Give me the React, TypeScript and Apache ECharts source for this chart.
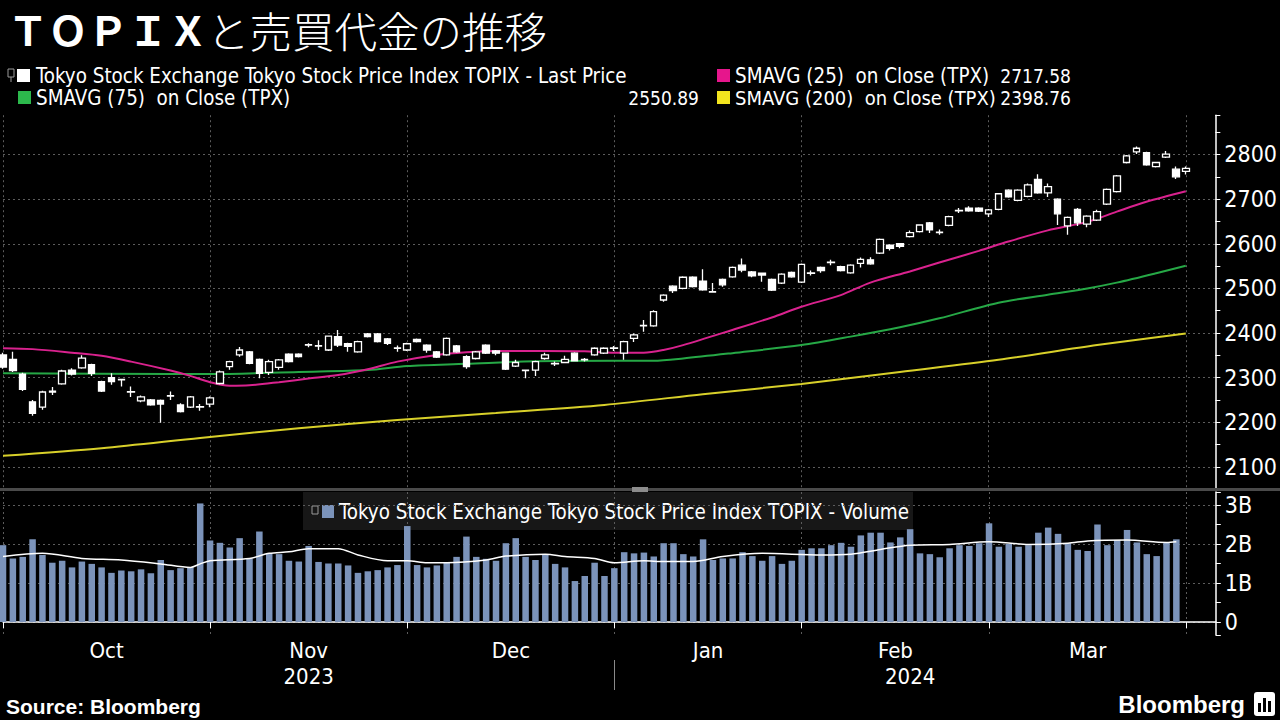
import React, { useEffect, useRef } from "react";
import * as echarts from "echarts";

// Trading days shown (Oct 2023 – early Apr 2024)
const octDays = [2, 3, 4, 5, 6, 10, 11, 12, 13, 16, 17, 18, 19, 20, 23, 24, 25, 26, 27, 30, 31];
const novDays = [1, 2, 6, 7, 8, 9, 10, 13, 14, 15, 16, 17, 20, 21, 22, 24, 27, 28, 29, 30];
const decDays = [1, 4, 5, 6, 7, 8, 11, 12, 13, 14, 15, 18, 19, 20, 21, 22, 25, 26, 27, 28, 29];
const janDays = [4, 5, 9, 10, 11, 12, 15, 16, 17, 18, 19, 22, 23, 24, 25, 26, 29, 30, 31];
const febDays = [1, 2, 5, 6, 7, 8, 9, 13, 14, 15, 16, 19, 20, 21, 22, 26, 27, 28, 29];
const marDays = [1, 4, 5, 6, 7, 8, 11, 12, 13, 14, 15, 18, 19, 21, 22, 25, 26, 27, 28, 29];
const aprDays = [1, 2, 3, 4];

const monthNames = ["Oct", "Nov", "Dec", "Jan", "Feb", "Mar"];
const yearLabels = ["2023", "2024"];
const priceTicks = [2100, 2200, 2300, 2400, 2500, 2600, 2700, 2800];
const volumeTickLabels = ["0", "1B", "2B", "3B"];

// TOPIX daily candles: [open, close, low, high]
const candles: number[][] = [
  [2351, 2324, 2320, 2356], [2341, 2316, 2313, 2358], [2308, 2274, 2270, 2311], [2246, 2220, 2215, 2250],
  [2234, 2268, 2228, 2271], [2268, 2270, 2261, 2279], [2286, 2315, 2284, 2318], [2317, 2308, 2305, 2321],
  [2322, 2344, 2320, 2350], [2329, 2310, 2304, 2331], [2291, 2270, 2268, 2293], [2300, 2291, 2284, 2310],
  [2296, 2295, 2280, 2297], [2269, 2268, 2257, 2280], [2248, 2257, 2245, 2260], [2250, 2239, 2237, 2252],
  [2249, 2241, 2199, 2251], [2259, 2260, 2250, 2269], [2239, 2224, 2222, 2243], [2234, 2257, 2232, 2259],
  [2234, 2235, 2226, 2241], [2241, 2255, 2234, 2258], [2287, 2313, 2285, 2316], [2325, 2336, 2318, 2338],
  [2351, 2362, 2347, 2369], [2358, 2332, 2330, 2360], [2341, 2310, 2299, 2343], [2312, 2336, 2306, 2340],
  [2323, 2340, 2318, 2342], [2353, 2336, 2334, 2355], [2353, 2347, 2345, 2355], [2373, 2374, 2368, 2377],
  [2371, 2372, 2362, 2384], [2362, 2393, 2360, 2394], [2392, 2373, 2369, 2407], [2376, 2370, 2358, 2378],
  [2358, 2381, 2356, 2383], [2398, 2392, 2390, 2400], [2398, 2381, 2379, 2400], [2387, 2377, 2373, 2389],
  [2366, 2367, 2358, 2372], [2362, 2376, 2360, 2378], [2386, 2381, 2379, 2388], [2373, 2362, 2356, 2375],
  [2358, 2346, 2344, 2360], [2351, 2388, 2349, 2390], [2371, 2358, 2356, 2373], [2347, 2325, 2320, 2350],
  [2343, 2358, 2341, 2360], [2373, 2355, 2353, 2375], [2360, 2355, 2350, 2362], [2355, 2319, 2317, 2356],
  [2326, 2334, 2324, 2340], [2317, 2316, 2299, 2318], [2317, 2336, 2304, 2338], [2343, 2351, 2340, 2356],
  [2331, 2332, 2326, 2336], [2334, 2341, 2333, 2349], [2355, 2338, 2336, 2357], [2340, 2341, 2336, 2344],
  [2351, 2366, 2349, 2368], [2355, 2366, 2353, 2368], [2366, 2367, 2360, 2371], [2355, 2381, 2340, 2383],
  [2388, 2396, 2380, 2399], [2416, 2417, 2403, 2429], [2416, 2448, 2414, 2451], [2474, 2485, 2470, 2487],
  [2505, 2495, 2490, 2507], [2500, 2525, 2498, 2527], [2525, 2504, 2502, 2527], [2516, 2497, 2495, 2543],
  [2492, 2493, 2491, 2512], [2520, 2508, 2504, 2522], [2526, 2547, 2524, 2549], [2552, 2541, 2536, 2567],
  [2537, 2528, 2525, 2539], [2534, 2530, 2515, 2535], [2520, 2496, 2494, 2522], [2512, 2532, 2510, 2534],
  [2536, 2526, 2524, 2538], [2514, 2554, 2512, 2556], [2534, 2535, 2529, 2540], [2547, 2540, 2535, 2549],
  [2558, 2559, 2552, 2564], [2549, 2540, 2538, 2551], [2535, 2552, 2533, 2554], [2556, 2565, 2547, 2569],
  [2564, 2555, 2553, 2570], [2579, 2610, 2577, 2612], [2597, 2590, 2585, 2599], [2600, 2594, 2590, 2602],
  [2616, 2625, 2614, 2630], [2627, 2642, 2625, 2644], [2647, 2631, 2624, 2649], [2625, 2626, 2620, 2632],
  [2641, 2661, 2639, 2663], [2674, 2675, 2669, 2680], [2680, 2674, 2672, 2684], [2680, 2673, 2671, 2682],
  [2667, 2676, 2660, 2678], [2677, 2712, 2675, 2714], [2720, 2705, 2703, 2722], [2697, 2720, 2695, 2722],
  [2706, 2732, 2704, 2735], [2744, 2714, 2712, 2756], [2714, 2728, 2705, 2735], [2700, 2667, 2642, 2702],
  [2640, 2659, 2620, 2661], [2677, 2647, 2640, 2680], [2644, 2662, 2637, 2664], [2653, 2672, 2651, 2676],
  [2689, 2722, 2687, 2724], [2717, 2752, 2715, 2754], [2782, 2797, 2780, 2799], [2806, 2814, 2801, 2818],
  [2804, 2777, 2775, 2806], [2773, 2782, 2771, 2784], [2794, 2801, 2792, 2808], [2767, 2750, 2745, 2773],
  [2762, 2769, 2755, 2773],
];

// Moving averages: [day index, value]
const sma25: number[][] = [
  [0, 2366], [3, 2364], [7, 2356], [10, 2349], [13, 2336], [17, 2316], [19, 2304], [21, 2290], [23, 2282],
  [25, 2283], [28, 2290], [31, 2298], [34, 2306], [37, 2319], [40, 2336], [44, 2351], [47, 2357], [50, 2360],
  [55, 2360], [59, 2359], [62, 2356], [65, 2356], [67, 2362], [69, 2373], [74, 2407], [78, 2435], [81, 2459],
  [85, 2485], [88, 2513], [92, 2538], [95, 2558], [99, 2584], [102, 2605], [106, 2630], [110, 2649],
  [113, 2672], [116, 2694], [120, 2717.58],
];
const sma75: number[][] = [
  [0, 2310], [17, 2308], [21, 2308], [30, 2313], [37, 2317], [41, 2326], [47, 2331], [54, 2337], [62, 2338],
  [66, 2338], [69, 2343], [74, 2355], [81, 2373], [86, 2392], [91, 2413], [95, 2433], [101, 2468], [106, 2486],
  [110, 2500], [113, 2513], [117, 2534], [120, 2550.89],
];
const sma200: number[][] = [
  [0, 2125], [10, 2142], [20, 2165], [30, 2187], [40, 2205], [50, 2221], [61, 2239], [71, 2263], [81, 2286],
  [91, 2313], [101, 2340], [111, 2373], [120, 2398.76],
];

// Volume in billions of shares
const volume = [
  1.97, 1.63, 1.67, 2.12, 1.72, 1.52, 1.57, 1.40, 1.55, 1.49,
  1.40, 1.26, 1.32, 1.30, 1.35, 1.25, 1.59, 1.33, 1.38, 1.40,
  3.04, 2.09, 2.03, 1.91, 2.15, 1.63, 2.32, 1.76, 1.74, 1.57,
  1.55, 1.95, 1.54, 1.50, 1.50, 1.45, 1.26, 1.30, 1.33, 1.40,
  1.46, 2.46, 1.46, 1.40, 1.45, 1.52, 1.67, 2.19, 1.67, 1.62,
  1.57, 2.02, 2.15, 1.67, 1.59, 1.74, 1.49, 1.40, 1.05, 1.18,
  1.52, 1.18, 1.38, 1.79, 1.76,
  1.78, 1.68, 2.02, 2.02, 1.74, 1.68, 2.12, 1.59, 1.63, 1.63,
  1.79, 1.69, 1.57, 1.69, 1.49, 1.57, 1.85, 1.89, 1.89, 1.97,
  2.03, 1.93, 2.22, 2.29, 2.29, 2.04, 2.17, 2.38, 1.76, 1.74,
  1.66, 1.89, 1.97, 1.95, 2.02, 2.53, 1.93, 2.00, 1.93, 1.97,
  2.29, 2.42, 2.26, 2.02, 1.85, 1.82, 2.50, 1.97, 2.10, 2.36,
  2.04, 1.74, 1.69, 2.03, 2.12,
];
const volumeAvg: number[][] = [
  [0, 1.68], [4, 1.76], [8, 1.63], [12, 1.59], [16, 1.49], [19, 1.40], [20, 1.49], [21, 1.57], [25, 1.63],
  [27, 1.76], [29, 1.80], [31, 1.88], [34, 1.88], [36, 1.72], [39, 1.57], [41, 1.57], [43, 1.52], [45, 1.52],
  [49, 1.59], [51, 1.69], [55, 1.74], [57, 1.68], [60, 1.63], [62, 1.52], [65, 1.57], [67, 1.55], [70, 1.55],
  [73, 1.68], [77, 1.76], [83, 1.72], [86, 1.74], [89, 1.86], [92, 1.97], [96, 1.99], [100, 2.06], [104, 1.99],
  [108, 2.02], [110, 2.08], [114, 2.10], [118, 2.04], [119, 2.06],
];

const NARROW = "'Liberation Sans Narrow', 'DejaVu Sans Condensed', 'Arial Narrow', 'Liberation Sans', sans-serif";
const SANS = "'Liberation Sans', Arial, sans-serif";
const CJK = "'Noto Sans CJK JP', 'Noto Sans CJK SC', sans-serif";
const GRID_COLOR = "#5c5c5c";
const C_25 = "#d9228e";
const C_75 = "#26a846";
const C_200 = "#d8d02a";
const C_VOL = "#7b93ba";

export default function App() {
  const ref = useRef<HTMLDivElement>(null);

  useEffect(() => {
    document.body.style.margin = "0";
    document.body.style.background = "#000";
    if (!ref.current) return;
    const chart = echarts.init(ref.current, undefined, { renderer: "svg" });

    const monthBlocks = [
      { y: 2023, m: 10, d: octDays }, { y: 2023, m: 11, d: novDays }, { y: 2023, m: 12, d: decDays },
      { y: 2024, m: 1, d: janDays }, { y: 2024, m: 2, d: febDays }, { y: 2024, m: 3, d: marDays },
      { y: 2024, m: 4, d: aprDays },
    ];
    const dates: string[] = [];
    const monthStarts: number[] = [];
    monthBlocks.forEach((b) => {
      monthStarts.push(dates.length);
      b.d.forEach((d) => dates.push(`${b.y}-${String(b.m).padStart(2, "0")}-${String(d).padStart(2, "0")}`));
    });
    const monthLabelAt: Record<number, { text: string; half: boolean }> = {};
    monthNames.forEach((name, k) => {
      const mid = (monthStarts[k] + monthStarts[k + 1]) / 2;
      monthLabelAt[Math.floor(mid)] = { text: name, half: mid % 1 !== 0 };
    });
    const yearLabelAt: Record<number, string> = {
      [Math.floor(monthStarts[3] / 2)]: yearLabels[0],
      [Math.floor((monthStarts[3] + monthStarts[6]) / 2) + 1]: yearLabels[1],
    };
    const isMonthStart = (i: number) => monthStarts.includes(i);

    const last = (a: number[][]) => a[a.length - 1][1].toFixed(2);

    const gridLine = { show: true, lineStyle: { color: GRID_COLOR, type: [2, 3], width: 1 } };
    const labelFont = { color: "#fff", fontSize: 22, fontFamily: NARROW };

    const legendText = (x: number, y: number, text: string, align = "left", size = 20.4) => ({
      type: "text", x, y,
      style: { text, fill: "#fff", fontSize: size, fontFamily: NARROW, verticalAlign: "middle", align },
    });
    const square = (x: number, y: number, fill: string) => ({
      type: "rect", shape: { x, y, width: 13, height: 13 }, style: { fill },
    });

    chart.setOption({
      animation: false,
      backgroundColor: "#000",
      grid: [
        { left: 3, right: 64.2, top: 115.2, height: 374.1 },
        { left: 3, right: 64.2, top: 492, height: 143 },
      ],
      xAxis: [
        {
          type: "category", gridIndex: 0, data: dates, boundaryGap: false,
          axisLine: { show: false }, axisTick: { show: false }, axisLabel: { show: false },
          splitLine: { ...gridLine, interval: (i: number) => isMonthStart(i) },
        },
        {
          type: "category", gridIndex: 1, data: dates, boundaryGap: false,
          axisLine: { show: true, lineStyle: { color: "#fff", width: 1.5 } },
          axisTick: { show: true, interval: (i: number) => isMonthStart(i), length: 6, lineStyle: { color: "#fff" } },
          axisLabel: {
            ...labelFont, margin: 4,
            interval: (i: number) => monthLabelAt[i] !== undefined,
            formatter: (_v: string, i: number) => {
              const l = monthLabelAt[i];
              if (!l) return "";
              return l.half ? `{h|${l.text}}` : `{n|${l.text}}`;
            },
            rich: {
              h: { ...labelFont, padding: [0, 0, 0, 10] },
              n: { ...labelFont },
            },
          },
          splitLine: { ...gridLine, interval: (i: number) => isMonthStart(i) },
        },
        {
          type: "category", gridIndex: 1, data: dates, boundaryGap: false, position: "bottom", offset: 25,
          axisLine: { show: false },
          axisTick: { show: true, interval: (i: number) => i === monthStarts[3], length: 30, lineStyle: { color: "#8a8a8a" } },
          axisLabel: {
            ...labelFont, margin: 5,
            interval: (i: number) => yearLabelAt[i] !== undefined,
            formatter: (_v: string, i: number) => yearLabelAt[i] || "",
          },
          splitLine: { show: false },
        },
      ],
      yAxis: [
        {
          type: "value", gridIndex: 0, position: "right", min: 2050, max: 2888, splitNumber: 8,
          axisLine: { show: true, lineStyle: { color: "#fff", width: 1.5 } },
          axisTick: { show: true, length: 5, lineStyle: { color: "#fff" } },
          minorTick: { show: true, splitNumber: 2, length: 5, lineStyle: { color: "#fff" } },
          axisLabel: {
            ...labelFont, fontSize: 23, margin: 9, showMinLabel: false, showMaxLabel: false,
            formatter: (v: number) => (priceTicks.includes(v) ? String(v) : ""),
          },
          splitLine: { ...gridLine, showMinLine: false, showMaxLine: false },
        },
        {
          type: "value", gridIndex: 1, position: "right", min: -0.3333, max: 3.3333, splitNumber: 4,
          axisLine: { show: true, lineStyle: { color: "#fff", width: 1.5 } },
          axisTick: { show: true, length: 5, lineStyle: { color: "#fff" } },
          minorTick: { show: true, splitNumber: 2, length: 5, lineStyle: { color: "#fff" } },
          axisLabel: {
            ...labelFont, fontSize: 23, margin: 9, showMinLabel: false, showMaxLabel: false,
            formatter: (v: number) => {
              const k = Math.round(v);
              return Math.abs(v - k) < 1e-6 && k >= 0 && k < volumeTickLabels.length ? volumeTickLabels[k] : "";
            },
          },
          splitLine: { ...gridLine, showMinLine: false, showMaxLine: false },
        },
      ],
      series: [
        {
          type: "line", xAxisIndex: 0, yAxisIndex: 0, data: sma200, smooth: 0.3, showSymbol: false,
          lineStyle: { color: C_200, width: 2 }, z: 2,
        },
        {
          type: "line", xAxisIndex: 0, yAxisIndex: 0, data: sma75, smooth: 0.3, showSymbol: false,
          lineStyle: { color: C_75, width: 2 }, z: 2,
        },
        {
          type: "line", xAxisIndex: 0, yAxisIndex: 0, data: sma25, smooth: 0.3, showSymbol: false,
          lineStyle: { color: C_25, width: 2 }, z: 2,
        },
        {
          type: "candlestick", xAxisIndex: 0, yAxisIndex: 0, data: candles, barWidth: 7, clip: false,
          itemStyle: { color: "#000", color0: "#fff", borderColor: "#fff", borderColor0: "#fff", borderWidth: 1.3 },
          z: 3,
        },
        {
          type: "bar", xAxisIndex: 1, yAxisIndex: 1, data: volume, barWidth: 6.5, clip: false,
          itemStyle: { color: C_VOL },
        },
        {
          type: "line", xAxisIndex: 1, yAxisIndex: 1, data: volumeAvg, smooth: 0.3, showSymbol: false,
          lineStyle: { color: "#fff", width: 1.5 }, z: 3,
        },
      ],
      graphic: [
        {
          type: "text", x: 8, y: 9,
          style: { text: "ＴＯＰＩＸ", fill: "#fff", fontSize: 40, fontWeight: "bold", fontFamily: CJK, verticalAlign: "top" },
        },
        {
          type: "text", x: 207, y: 8,
          style: { text: "と売買代金の推移", fill: "#fff", fontSize: 42.5, fontWeight: 300, fontFamily: CJK, verticalAlign: "top" },
        },
        { type: "rect", shape: { x: 8, y: 69, width: 6, height: 8 }, style: { fill: "none", stroke: "#9a9a9a", lineWidth: 1 } },
        { type: "line", shape: { x1: 11, y1: 77, x2: 11, y2: 82 }, style: { stroke: "#9a9a9a", lineWidth: 1 } },
        square(17, 69, "#fff"),
        legendText(36, 76, "Tokyo Stock Exchange Tokyo Stock Price Index TOPIX - Last Price"),
        square(717, 69, "#e6168c"),
        legendText(735, 76, "SMAVG (25)  on Close (TPX)"),
        legendText(1071, 76, last(sma25), "right", 19),
        square(18, 91, "#2cb84c"),
        legendText(36, 98, "SMAVG (75)  on Close (TPX)"),
        legendText(699, 98, last(sma75), "right", 19),
        square(717, 91, "#f2e41e"),
        legendText(735, 98, "SMAVG (200)  on Close (TPX)", "left", 20),
        legendText(1071, 98, last(sma200), "right", 19),
        // panel separator
        { type: "rect", shape: { x: 0, y: 488, width: 1280, height: 3 }, style: { fill: "#4a4a4a" }, z: 50 },
        { type: "rect", shape: { x: 632, y: 487, width: 16, height: 5 }, style: { fill: "#8c8c8c" }, z: 51 },
        // volume legend
        {
          type: "group", z: 60,
          children: [
            { type: "rect", shape: { x: 303, y: 492, width: 610, height: 38 }, style: { fill: "rgba(42,42,42,0.55)" } },
            { type: "rect", shape: { x: 312, y: 506, width: 6, height: 8 }, style: { fill: "none", stroke: "#9a9a9a", lineWidth: 1 } },
            { type: "rect", shape: { x: 322, y: 505, width: 12, height: 13 }, style: { fill: C_VOL } },
            legendText(339, 512, "Tokyo Stock Exchange Tokyo Stock Price Index TOPIX - Volume"),
          ],
        },
        {
          type: "text", x: 6, y: 706,
          style: { text: "Source: Bloomberg", fill: "#fff", fontSize: 21, fontWeight: "bold", fontFamily: SANS, verticalAlign: "middle" },
        },
        {
          type: "text", x: 1245, y: 704,
          style: { text: "Bloomberg", fill: "#fff", fontSize: 24, fontWeight: "bold", fontFamily: SANS, verticalAlign: "middle", align: "right" },
        },
        { type: "rect", shape: { x: 1254, y: 692, width: 21, height: 24, r: 3 }, style: { fill: "#fff" } },
        { type: "rect", shape: { x: 1258, y: 703, width: 3, height: 9 }, style: { fill: "#000" } },
        { type: "rect", shape: { x: 1263, y: 698, width: 3, height: 14 }, style: { fill: "#000" } },
        { type: "rect", shape: { x: 1268, y: 701, width: 3, height: 11 }, style: { fill: "#000" } },
      ],
    });

    return () => chart.dispose();
  }, []);

  return (
    <div
      ref={ref}
      style={{ position: "absolute", left: 0, top: 0, width: 1280, height: 720, background: "#000" }}
    />
  );
}
